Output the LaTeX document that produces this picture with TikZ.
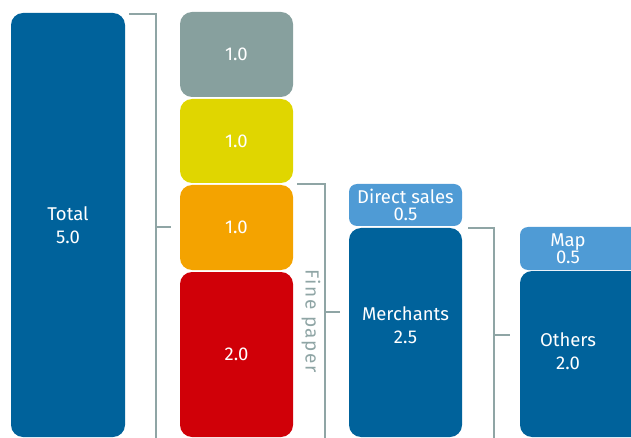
\documentclass[tikz,border=0pt]{standalone}
\usepackage{fontspec}
\setmainfont{Fira Sans}
\definecolor{dblue}{RGB}{0,98,155}
\definecolor{lblue}{RGB}{79,155,213}
\definecolor{bgray}{RGB}{135,160,158}
\definecolor{byellow}{RGB}{224,214,0}
\definecolor{borange}{RGB}{244,163,0}
\definecolor{bred}{RGB}{208,0,8}
\definecolor{lgray}{RGB}{143,165,165}
\tikzset{
  bar/.style={rectangle, rounded corners=12pt, inner sep=0pt, text=white, align=center,
    font=\fontsize{18.5}{23}\selectfont},
  smallbar/.style={bar, rounded corners=8pt, font=\fontsize{18.5}{17}\selectfont},
  brk/.style={draw=lgray, line width=1.6pt},
  lbl/.style={text=white, align=center, font=\fontsize{18.5}{23}\selectfont, inner sep=0pt}
}
\begin{document}
\begin{tikzpicture}[x=1pt,y=-1pt]
\useasboundingbox (0,0) rectangle (631,438);
\clip (0,0) rectangle (631,438);
\node[bar, fill=dblue, minimum width=114pt, minimum height=424pt] (total) at (68,225) {Total\\5.0};
\node[bar, fill=bgray, minimum width=113pt, minimum height=85pt] (g1) at (236.5,54.5) {1.0};
\node[bar, fill=byellow, minimum width=113pt, minimum height=84pt] (g2) at (236.5,141) {1.0};
\node[bar, fill=borange, minimum width=113pt, minimum height=85pt] (g3) at (236.5,227.5) {1.0};
\node[bar, fill=bred, minimum width=113pt, minimum height=165pt] (g4) at (236.5,354.5) {2.0};
\node[smallbar, fill=lblue, minimum width=113pt, minimum height=42pt] (direct) at (405.5,205) {Direct sales\\0.5};
\node[bar, fill=dblue, minimum width=113pt, minimum height=209pt] (merch) at (405.5,332.5) {};
\node[lbl] (merchtxt) at (405.5,325) {Merchants\\2.5};
\node[smallbar, fill=lblue, minimum width=130pt, minimum height=43pt] (map) at (585,248.5) {};
\node[lbl, font=\fontsize{18.5}{16}\selectfont] (maptxt) at (568,248.5) {Map\\0.5};
\node[bar, fill=dblue, minimum width=130pt, minimum height=166pt] (others) at (585,354) {};
\node[lbl] (otherstxt) at (568,351) {Others\\2.0};
\coordinate (b1t) at (129,14);
\coordinate (b1c) at (156,14);
\coordinate (b1b) at (156,445);
\coordinate (b1m) at (156,227);
\coordinate (b1e) at (171,227);
\draw[brk] (b1t) -- (b1c) -- (b1b);
\draw[brk] (b1m) -- (b1e);
\coordinate (b2t) at (297,184);
\coordinate (b2c) at (325,184);
\coordinate (b2b) at (325,445);
\coordinate (b2m) at (325,312);
\coordinate (b2e) at (340,312);
\draw[brk] (b2t) -- (b2c) -- (b2b);
\draw[brk] (b2m) -- (b2e);
\coordinate (b3t) at (468,228);
\coordinate (b3c) at (494,228);
\coordinate (b3b) at (494,445);
\coordinate (b3m) at (494,335);
\coordinate (b3e) at (510,335);
\draw[brk] (b3t) -- (b3c) -- (b3b);
\draw[brk] (b3m) -- (b3e);
\node[rotate=-90, text=lgray, font=\fontsize{19}{20}\selectfont, inner sep=0pt] (fine) at (311,321) {\addfontfeatures{LetterSpace=8}Fine paper};
\end{tikzpicture}
\end{document}
